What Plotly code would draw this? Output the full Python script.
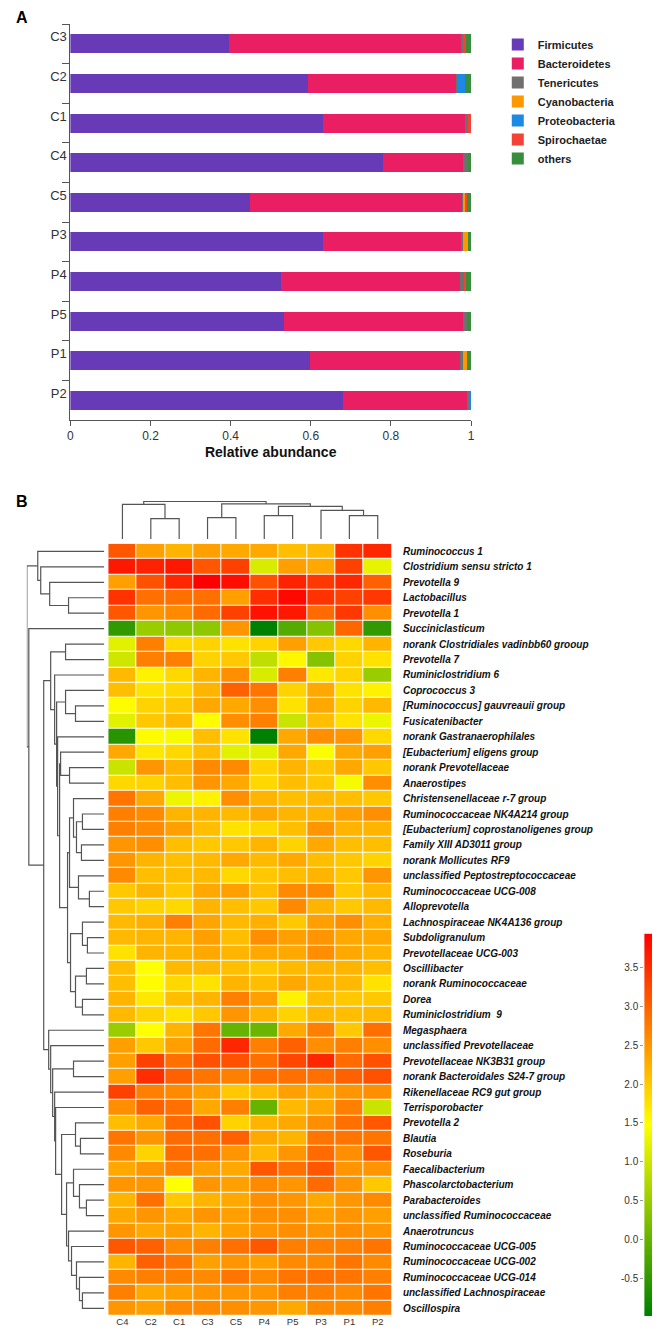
import numpy as np
import plotly.graph_objects as go

W, H = 660, 1326
def fx(px): return px / W
def fy(py): return 1 - py / H

# ---------------- Panel A data ----------------
bar_samples = ["C3", "C2", "C1", "C4", "C5", "P3", "P4", "P5", "P1", "P2"]
phyla = ["Firmicutes", "Bacteroidetes", "Tenericutes", "Cyanobacteria",
         "Proteobacteria", "Spirochaetae", "others"]
firmicutes     = [0.397, 0.594, 0.630, 0.781, 0.448, 0.630, 0.525, 0.533, 0.597, 0.681]
bacteroidetes  = [0.580, 0.370, 0.358, 0.199, 0.532, 0.347, 0.448, 0.447, 0.376, 0.310]
tenericutes    = [0.003, 0.004, 0.004, 0.012, 0.003, 0.004, 0.009, 0.011, 0.007, 0.003]
cyanobacteria  = [0.000, 0.000, 0.000, 0.000, 0.004, 0.011, 0.000, 0.000, 0.011, 0.000]
proteobacteria = [0.000, 0.016, 0.000, 0.000, 0.000, 0.000, 0.000, 0.000, 0.000, 0.006]
spirochaetae   = [0.008, 0.000, 0.008, 0.000, 0.003, 0.000, 0.006, 0.000, 0.000, 0.000]
others         = [0.012, 0.016, 0.000, 0.008, 0.010, 0.008, 0.012, 0.009, 0.009, 0.000]
phylum_colors = ["#673AB7", "#E91E63", "#707070", "#FF9800", "#1E88E5", "#F44336", "#388E3C"]
x_ticks = [0, 0.2, 0.4, 0.6, 0.8, 1.0]
x_ticktext = ["0", "0.2", "0.4", "0.6", "0.8", "1"]

# ---------------- Panel B data ----------------
heat_samples = ["C4", "C2", "C1", "C3", "C5", "P4", "P5", "P3", "P1", "P2"]
genera = [
    "Ruminococcus 1", "Clostridium sensu stricto 1", "Prevotella 9", "Lactobacillus",
    "Prevotella 1", "Succiniclasticum", "norank Clostridiales vadinbb60 grooup",
    "Prevotella 7", "Ruminiclostridium 6", "Coprococcus 3",
    "[Ruminococcus] gauvreauii group", "Fusicatenibacter", "norank Gastranaerophilales",
    "[Eubacterium] eligens group", "norank Prevotellaceae", "Anaerostipes",
    "Christensenellaceae r-7 group", "Ruminococcaceae NK4A214 group",
    "[Eubacterium] coprostanoligenes group", "Family XIII AD3011 group",
    "norank Mollicutes RF9", "unclassified Peptostreptococcaceae",
    "Ruminococcaceae UCG-008", "Alloprevotella", "Lachnospiraceae NK4A136 group",
    "Subdoligranulum", "Prevotellaceae UCG-003", "Oscillibacter",
    "norank Ruminococcaceae", "Dorea", "Ruminiclostridium  9", "Megasphaera",
    "unclassified Prevotellaceae", "Prevotellaceae NK3B31 group",
    "norank Bacteroidales S24-7 group", "Rikenellaceae RC9 gut group",
    "Terrisporobacter", "Prevotella 2", "Blautia", "Roseburia", "Faecalibacterium",
    "Phascolarctobacterium", "Parabacteroides", "unclassified Ruminococcaceae",
    "Anaerotruncus", "Ruminococcaceae UCG-005", "Ruminococcaceae UCG-002",
    "Ruminococcaceae UCG-014", "unclassified Lachnospiraceae", "Oscillospira",
]
C4 = [3.1, 3.7, 2.4, 3.45, 3.1, -0.5, 1.2, 1.0, 2.15, 2.1,
      1.5, 1.2, -0.6, 2.3, 0.95, 1.85, 2.8, 2.7, 2.7, 2.5,
      2.5, 2.6, 2.0, 2.0, 2.15, 2.15, 1.75, 2.1, 2.1, 2.2,
      2.15, 0.5, 2.4, 2.4, 2.4, 3.3, 2.55, 2.1, 2.8, 2.6,
      2.3, 2.5, 2.2, 2.3, 2.5, 3.1, 2.2, 2.6, 2.7, 2.5]
C2 = [2.4, 3.6, 3.15, 2.85, 2.5, 0.5, 2.7, 2.7, 1.6, 1.75,
      1.9, 2.0, 1.5, 1.7, 2.5, 1.9, 2.3, 2.6, 2.6, 2.55,
      2.2, 2.1, 2.2, 1.9, 2.25, 2.2, 2.2, 1.47, 1.5, 1.7,
      1.9, 1.47, 2.0, 3.3, 3.5, 2.7, 3.0, 2.3, 2.5, 1.9,
      2.5, 2.5, 2.85, 2.5, 2.3, 3.0, 3.0, 2.7, 2.3, 2.4]
C1 = [2.2, 3.7, 3.55, 2.85, 2.6, 0.4, 1.85, 2.7, 1.85, 1.85,
      2.0, 2.15, 1.4, 1.85, 2.2, 2.1, 1.3, 2.2, 2.4, 2.1,
      2.1, 2.1, 2.0, 1.85, 2.7, 2.2, 2.2, 2.15, 1.85, 2.1,
      1.75, 2.2, 2.4, 2.85, 3.0, 2.6, 2.85, 2.9, 2.9, 2.9,
      2.7, 1.47, 2.0, 2.3, 2.4, 2.6, 2.8, 2.7, 2.4, 2.6]
C3 = [2.4, 3.1, 3.93, 2.85, 2.9, 0.4, 1.9, 1.9, 2.2, 2.2,
      2.3, 1.5, 2.1, 2.1, 2.6, 2.5, 1.6, 2.2, 2.1, 2.0,
      2.15, 2.15, 2.3, 2.2, 2.35, 2.4, 2.3, 2.15, 1.75, 2.2,
      2.0, 2.8, 2.9, 3.15, 2.8, 2.4, 2.3, 3.15, 2.85, 2.85,
      2.4, 2.5, 2.2, 2.5, 2.2, 2.7, 2.4, 2.6, 2.5, 2.6]
C5 = [2.3, 3.3, 3.8, 2.4, 3.3, 2.5, 1.75, 2.0, 2.55, 3.0,
      2.3, 2.55, 1.75, 1.2, 2.6, 2.3, 2.55, 2.15, 1.75, 2.0,
      2.3, 1.85, 2.4, 2.1, 2.15, 2.1, 2.2, 2.1, 2.2, 2.7,
      2.5, 0.0, 3.55, 3.15, 2.7, 2.0, 2.7, 1.9, 3.0, 2.5,
      2.3, 2.4, 2.3, 2.4, 2.4, 2.85, 2.5, 2.8, 2.5, 2.55]
P4 = [2.3, 1.1, 3.15, 3.5, 3.75, -0.98, 1.9, 0.85, 1.1, 2.8,
      2.55, 2.7, -0.98, 1.2, 1.9, 1.85, 2.2, 2.3, 1.85, 2.2,
      2.15, 2.0, 2.1, 2.0, 2.25, 2.55, 2.3, 2.0, 2.1, 2.4,
      2.2, 0.05, 2.7, 2.85, 2.85, 2.15, 0.0, 2.2, 2.3, 2.15,
      3.1, 2.6, 2.55, 2.55, 2.5, 3.1, 2.4, 2.6, 2.5, 2.5]
P5 = [2.1, 2.4, 3.6, 3.85, 3.7, -0.15, 2.4, 1.55, 2.7, 1.9,
      1.75, 0.95, 2.3, 2.3, 2.2, 2.1, 2.1, 2.2, 2.1, 1.9,
      2.3, 2.1, 2.6, 2.6, 2.0, 2.4, 2.3, 2.15, 2.3, 1.6,
      1.9, 2.3, 3.0, 3.25, 2.85, 2.4, 2.15, 2.3, 2.2, 2.5,
      2.85, 2.5, 2.5, 2.55, 2.55, 2.7, 2.6, 2.8, 2.7, 2.3]
P3 = [2.15, 2.3, 3.4, 3.45, 2.9, 0.3, 2.0, 0.3, 1.7, 2.3,
      2.3, 2.1, 2.55, 1.45, 2.0, 2.0, 2.15, 2.2, 2.5, 2.3,
      2.1, 2.2, 2.6, 2.2, 2.4, 2.5, 2.55, 2.2, 2.2, 2.1,
      2.15, 2.7, 2.55, 3.55, 2.85, 2.3, 2.3, 2.55, 2.8, 2.9,
      3.1, 2.9, 2.3, 2.4, 2.5, 2.7, 2.6, 2.85, 2.7, 2.6]
P1 = [3.45, 3.3, 3.55, 3.3, 3.4, 2.95, 1.85, 1.9, 1.9, 1.75,
      1.9, 1.75, 2.5, 2.3, 2.3, 1.4, 2.1, 2.4, 2.2, 2.1,
      2.0, 2.0, 2.0, 2.0, 2.55, 2.3, 2.3, 2.2, 2.15, 2.0,
      2.1, 2.0, 2.7, 2.9, 3.0, 2.5, 2.7, 2.85, 2.8, 2.55,
      2.5, 2.5, 2.5, 2.5, 2.55, 2.7, 2.8, 2.8, 2.6, 2.6]
P2 = [3.55, 1.25, 3.0, 3.4, 2.55, -0.5, 2.2, 1.75, 0.5, 1.6,
      2.15, 1.3, 1.85, 2.4, 2.0, 2.55, 2.0, 2.55, 2.2, 2.1,
      1.9, 2.5, 2.15, 2.15, 2.25, 2.3, 2.2, 2.1, 1.75, 2.0,
      2.15, 2.85, 2.55, 3.15, 3.15, 2.55, 0.95, 3.1, 2.8, 3.1,
      2.5, 2.0, 2.6, 2.4, 2.5, 2.8, 2.6, 2.7, 2.8, 2.7]
heat_columns = [C4, C2, C1, C3, C5, P4, P5, P3, P1, P2]
z_min, z_max = -0.98, 3.93
cbar_ticks = [-0.5, 0.0, 0.5, 1.0, 1.5, 2.0, 2.5, 3.0, 3.5]
cbar_ticktext = ["-0.5", "0.0", "0.5", "1.0", "1.5", "2.0", "2.5", "3.0", "3.5"]
heat_colorscale = [[0.0, "#008000"], [0.5, "#FFFF00"], [1.0, "#FF0000"]]

# dendrograms: [left, right, height]; leaves are display indices
col_tree = [[0, [1, 2, 20], 34], [[3, 4, 21], [[5, 6, 23], [7, [8, 9, 23], 28], 32], 34.4], 37]
row_tree_A2 = [12, [[13, [14, 15, 35], 44],
                    [[[16, [[17, 18, 22], [19, 20, 23], 28], 31], [21, [22, 23, 15], 26], 35],
                     [[24, [25, 26, 17], 22], [[27, 28, 18], [29, 30, 22], 29], 34], 37], 45], 47]
row_tree_A = [[6, 7, 39], [8, [[9, [10, 11, 29], 39], row_tree_A2, 48], 50], 54]
row_tree_B = [31, [32, [[33, 34, 31], [35, [36, [[37, [38, 39, 24], 29],
              [[40, [41, [42, 43, 18], 25], 31],
               [44, [45, [46, [47, [48, 49, 22], 25], 28], 33], 36], 38], 43], 49], 50], 52], 54], 56]
row_tree = [[0, [1, [2, [3, 4, 36], 55], 64], 67], [5, [row_tree_A, row_tree_B, 61], 76], 78]


def dendro_segments(node, pos_out, h_out):
    """returns (position, height) of node and fills segments."""
    if not isinstance(node, list):
        return float(node), 0.0
    lp, lh = dendro_segments(node[0], pos_out, h_out)
    rp, rh = dendro_segments(node[1], pos_out, h_out)
    h = node[2]
    pos_out += [lp, lp, rp, rp, None]
    h_out += [lh, h, h, rh, None]
    return (lp + rp) / 2, h


fig = go.Figure()

# ---------------- Panel A ----------------
series = [firmicutes, bacteroidetes, tenericutes, cyanobacteria, proteobacteria, spirochaetae, others]
for name, vals, col in zip(phyla, series, phylum_colors):
    fig.add_trace(go.Bar(x=vals, y=bar_samples, orientation="h", name=name,
                         marker=dict(color=col, line=dict(width=0)),
                         xaxis="x", yaxis="y", showlegend=True))

# ---------------- Panel B ----------------
z_rows = [list(r) for r in zip(*heat_columns)]
fig.add_trace(go.Heatmap(z=z_rows, x=list(range(len(heat_samples))), y=list(range(len(genera))),
                         colorscale=heat_colorscale, zmin=z_min, zmax=z_max, showscale=False,
                         xgap=1, ygap=1, xaxis="x2", yaxis="y2", showlegend=False))

grad = np.linspace(z_min, z_max, 300)
fig.add_trace(go.Heatmap(z=[[v] for v in grad], x=[0], y=grad, colorscale=heat_colorscale,
                         zmin=z_min, zmax=z_max, showscale=False, xaxis="x3", yaxis="y3",
                         showlegend=False))

cp, ch = [], []
dendro_segments(col_tree, cp, ch)
fig.add_trace(go.Scatter(x=cp, y=ch, mode="lines", line=dict(color="#555555", width=1.2),
                         xaxis="x2", yaxis="y4", showlegend=False, hoverinfo="skip"))
rp, rh = [], []
dendro_segments(row_tree, rp, rh)
fig.add_trace(go.Scatter(x=rh, y=rp, mode="lines", line=dict(color="#555555", width=1.2),
                         xaxis="x5", yaxis="y2", showlegend=False, hoverinfo="skip"))

axis_col = "#555555"
fig.update_layout(
    width=W, height=H, margin=dict(l=0, r=0, t=0, b=0),
    paper_bgcolor="white", plot_bgcolor="white",
    font=dict(family="Liberation Sans, Arial, sans-serif", color="#333333"),
    barmode="stack", bargap=0.52,
    legend=dict(x=fx(492), y=fy(22), xanchor="left", yanchor="top", traceorder="normal",
                font=dict(size=11, color="#222222", weight="bold"), bgcolor="rgba(0,0,0,0)"),
    xaxis=dict(domain=[fx(60), fx(465)], anchor="y", range=[0, 1], tickvals=x_ticks,
               ticktext=x_ticktext, ticks="outside", ticklen=5, tickcolor=axis_col,
               showline=True, linecolor=axis_col, linewidth=1, showgrid=False, zeroline=False,
               tickfont=dict(size=12),
               title=dict(text="Relative abundance", standoff=4,
                          font=dict(size=14, color="#111111", weight="bold"))),
    yaxis=dict(domain=[fy(412), fy(16)], anchor="x", type="category",
               categoryorder="array", categoryarray=bar_samples, range=[9.5, -0.5],
               tickson="boundaries", ticks="outside", ticklen=7, tickcolor=axis_col,
               showline=True, linecolor=axis_col, linewidth=1, showgrid=False,
               ticklabelshift=7, tickfont=dict(size=13)),
    xaxis2=dict(domain=[fx(98.3), fx(385)], anchor="y2", range=[-0.5, 9.5],
                tickvals=list(range(len(heat_samples))), ticktext=heat_samples, ticks="",
                showgrid=False, zeroline=False, showline=False, ticklabelstandoff=-2,
                tickfont=dict(size=9.5)),
    yaxis2=dict(domain=[fy(1308), fy(535.7)], anchor="x2", range=[len(genera) - 0.5, -0.5],
                side="right", tickvals=list(range(len(genera))), ticktext=genera, ticks="",
                showgrid=False, zeroline=False, showline=False, ticklabelstandoff=10,
                tickfont=dict(size=10, color="#111111", weight="bold", style="italic")),
    xaxis3=dict(domain=[fx(640), fx(659)], anchor="y3", range=[-0.5, 0.5], visible=False),
    yaxis3=dict(domain=[fy(1308), fy(925.8)], anchor="x3", range=[z_min, z_max], side="left",
                tickvals=cbar_ticks, ticktext=cbar_ticktext, ticks="outside", ticklen=3,
                tickcolor="#999999", showgrid=False, zeroline=False, showline=False,
                tickfont=dict(size=10, color="#333333")),
    yaxis4=dict(domain=[fy(531), fy(493)], anchor="x2", range=[0, 37.3], visible=False),
    xaxis5=dict(domain=[fx(16), fx(94.3)], anchor="y2", range=[78, 0], visible=False),
    annotations=[
        dict(text="<b>A</b>", x=fx(3), y=fy(10), xref="paper", yref="paper",
             xanchor="left", yanchor="middle", showarrow=False, font=dict(size=16, color="black")),
        dict(text="<b>B</b>", x=fx(3), y=fy(493), xref="paper", yref="paper",
             xanchor="left", yanchor="middle", showarrow=False, font=dict(size=16, color="black")),
    ],
)

fig.write_html("out.html")
